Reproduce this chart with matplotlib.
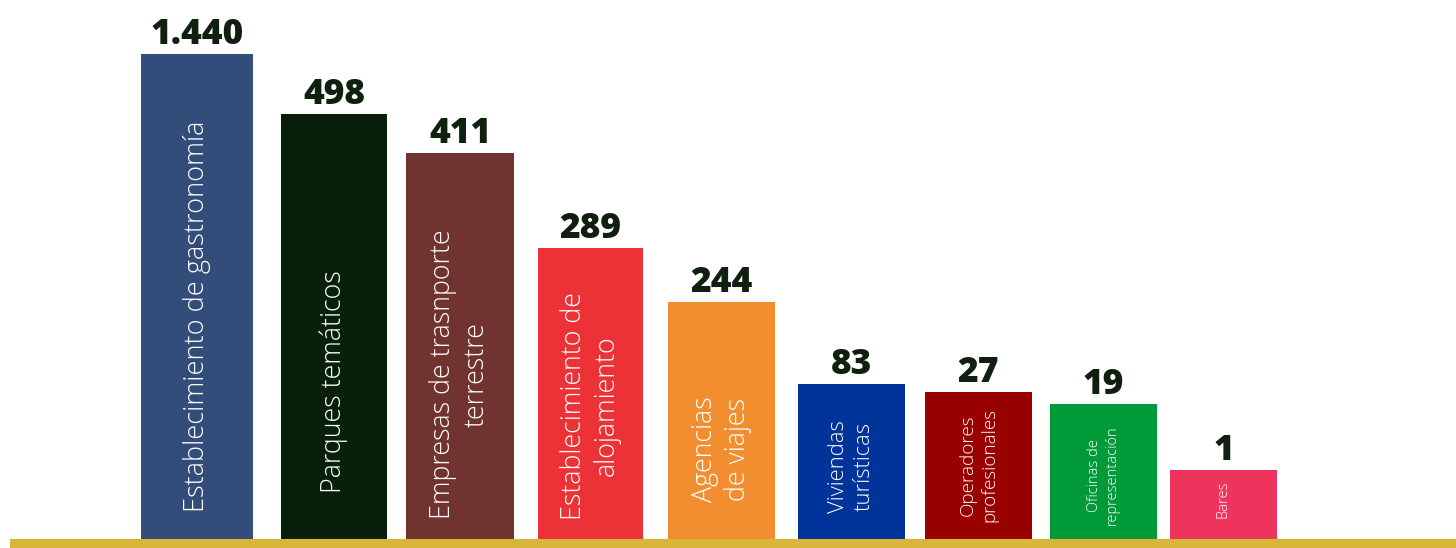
import matplotlib.pyplot as plt

# categories (as printed inside the bars) and values shown above them
labels = ["Establecimiento de gastronomía", "Parques temáticos",
          "Empresas de trasnporte\nterrestre", "Establecimiento de\nalojamiento",
          "Agencias\nde viajes", "Viviendas\nturísticas", "Operadores\nprofesionales",
          "Oficinas de\nrepresentación", "Bares"]
values = ["1.440", "498", "411", "289", "244", "83", "27", "19", "1"]
# bar heights as drawn in the source (not to scale with the values)
heights = [485, 425, 386, 291, 237, 155, 147, 135, 69]

colors = ["#324d7a", "#08200a", "#713330", "#ec3237", "#f28e2f",
          "#00349a", "#990000", "#009a38", "#ee335d"]
centers = [197, 334, 460, 590.5, 721.5, 851.5, 978.5, 1103.5, 1223.5]
widths = [112, 106, 108, 105, 107, 107, 107, 107, 107]
label_sizes = [19.5, 19.3, 19.3, 19.3, 19.3, 15.8, 13.6, 10.5, 10.5]
label_bottom = [27, 46, 20, 19, 37, 26, 17, 14, 21]

base = 9

fig = plt.figure(figsize=(14.56, 5.48), dpi=100)
ax = fig.add_axes([0, 0, 1, 1])
ax.set_xlim(0, 1456)
ax.set_ylim(0, 548)
ax.axis("off")

ax.bar(centers, heights, width=widths, bottom=base, color=colors)
ax.fill_between([10, 1456], 0, base, color="#d9b53a", lw=0)

for i in range(len(labels)):
    top = base + heights[i]
    ax.text(centers[i], top + 10, values[i], ha="center", va="baseline",
            fontsize=25.5, fontweight="heavy", color="#0f200f", family="Open Sans")
    ax.text(centers[i], base + label_bottom[i], labels[i], rotation=90,
            ha="center", va="bottom", multialignment="center",
            fontsize=label_sizes[i], fontweight="light", color="white",
            family="Open Sans", linespacing=1.25)

fig.savefig("out.png", dpi=100)
